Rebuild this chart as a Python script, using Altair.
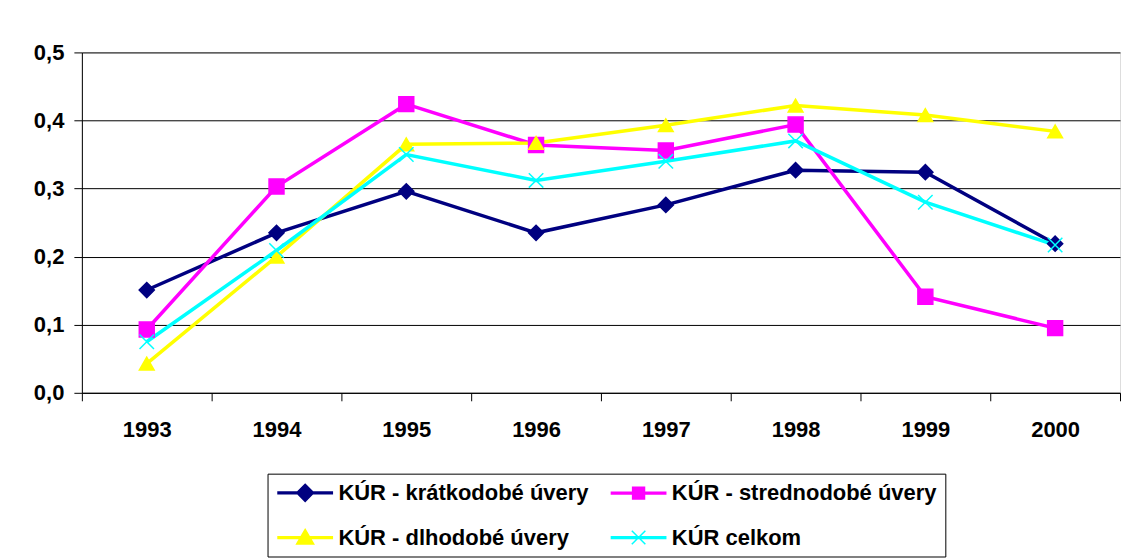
import altair as alt
import pandas as pd

years = ["1993", "1994", "1995", "1996", "1997", "1998", "1999", "2000"]
names = ["KÚR - krátkodobé úvery", "KÚR - strednodobé úvery", "KÚR - dlhodobé úvery", "KÚR celkom"]
kratko = [0.151, 0.235, 0.296, 0.235, 0.276, 0.327, 0.324, 0.219]
stredno = [0.093, 0.303, 0.424, 0.364, 0.356, 0.394, 0.141, 0.095]
dlho = [0.043, 0.200, 0.365, 0.367, 0.393, 0.422, 0.408, 0.384]
celkom = [0.075, 0.209, 0.350, 0.312, 0.340, 0.370, 0.280, 0.217]
colors = ["#000080", "#FF00FF", "#FFFF00", "#00FFFF"]

rows = []
for name, vals in zip(names, [kratko, stredno, dlho, celkom]):
    for y, v in zip(years, vals):
        rows.append({"year": y, "value": v, "series": name})
df = pd.DataFrame(rows)

FONT = "Liberation Sans"
X_PATH = "M-1,-1L1,1M-1,1L1,-1"
plot_shapes = ["diamond", "square", "triangle-up", X_PATH]
plot_sizes = [230, 210, 330, 330]

line_part = "M-1,-0.1H5.4V0.1H-1Z "
legend_shapes = [
    line_part + "M2.2,-1L3.2,0L2.2,1L1.2,0Z",
    line_part + "M1.5,-0.7H2.9V0.7H1.5Z",
    line_part + "M2.2,-0.95L3.2,0.75L1.2,0.75Z",
    line_part + "M1.4,-0.8L3.0,0.8M1.4,0.8L3.0,-0.8",
]
# legend is filled column by column: reorder so rows read 1-2 / 3-4
leg_order = [0, 2, 1, 3]
leg_names = [names[i] for i in leg_order]
leg_colors = [colors[i] for i in leg_order]
leg_shapes = [legend_shapes[i] for i in leg_order]

x_enc = alt.X(
    "year:O",
    bandPosition=0.5,
    scale=alt.Scale(type="band", paddingInner=0, paddingOuter=0),
    axis=alt.Axis(
        title=None, labelAngle=0, tickBand="extent", tickSize=8,
        labelPadding=19, labelFont=FONT, labelFontSize=22, labelFontWeight="bold",
        labelColor="black", domainColor="#000000", tickColor="#000000",
        grid=False,
    ),
)
y_enc = alt.Y(
    "value:Q",
    scale=alt.Scale(domain=[0, 0.5], nice=False),
    axis=alt.Axis(
        title=None, values=[0, 0.1, 0.2, 0.3, 0.4, 0.5], tickSize=8,
        labelPadding=10, labelFont=FONT, labelFontSize=22, labelFontWeight="bold",
        labelColor="black", domainColor="#000000", tickColor="#000000",
        gridColor="#000000", gridWidth=1,
        labelExpr="replace(format(datum.value, '.1f'), '.', ',')",
    ),
)

cscale = alt.Scale(domain=names, range=colors)
lscale = alt.Scale(domain=leg_names, range=leg_colors)

lines = alt.Chart(df).mark_line(strokeWidth=3.5).encode(
    x=x_enc, y=y_enc,
    color=alt.Color("series:N", scale=cscale, legend=None),
)

points = alt.Chart(df).mark_point(filled=True, strokeWidth=1.5, opacity=1).encode(
    x=x_enc, y=y_enc,
    color=alt.Color("series:N", scale=cscale, legend=None),
    stroke=alt.Stroke("series:N", scale=cscale, legend=None),
    shape=alt.Shape("series:N", scale=alt.Scale(domain=names, range=plot_shapes), legend=None),
    size=alt.Size("series:N", scale=alt.Scale(domain=names, range=plot_sizes), legend=None),
)

leg = alt.Legend(
    title=None, orient="none", legendX=186, legendY=422, columns=2,
    symbolSize=289, symbolStrokeWidth=1.5, labelOffset=41,
    rowPadding=21, columnPadding=19, padding=8,
    labelFont=FONT, labelFontSize=22, labelFontWeight="bold", labelColor="black",
    labelLimit=500, strokeColor="#000000", fillColor="#FFFFFF",
)

legend_layer = alt.Chart(df).transform_filter("false").mark_point(
    filled=True, strokeWidth=1.5, opacity=1
).encode(
    color=alt.Color("series:N", scale=lscale, legend=leg),
    stroke=alt.Stroke("series:N", scale=lscale, legend=leg),
    shape=alt.Shape("series:N", scale=alt.Scale(domain=leg_names, range=leg_shapes), legend=leg),
)

chart = alt.layer(lines, points, legend_layer).resolve_scale(
    color="independent", stroke="independent", shape="independent", size="independent"
).properties(
    width=1040, height=341,
    padding={"left": 25, "top": 33, "right": 4, "bottom": 0},
).configure_view(
    fill="#C0C0C0", stroke="#808080", strokeWidth=1.5,
).configure(background="white")

chart.save("out.html", embed_options={"renderer": "svg", "actions": False})
